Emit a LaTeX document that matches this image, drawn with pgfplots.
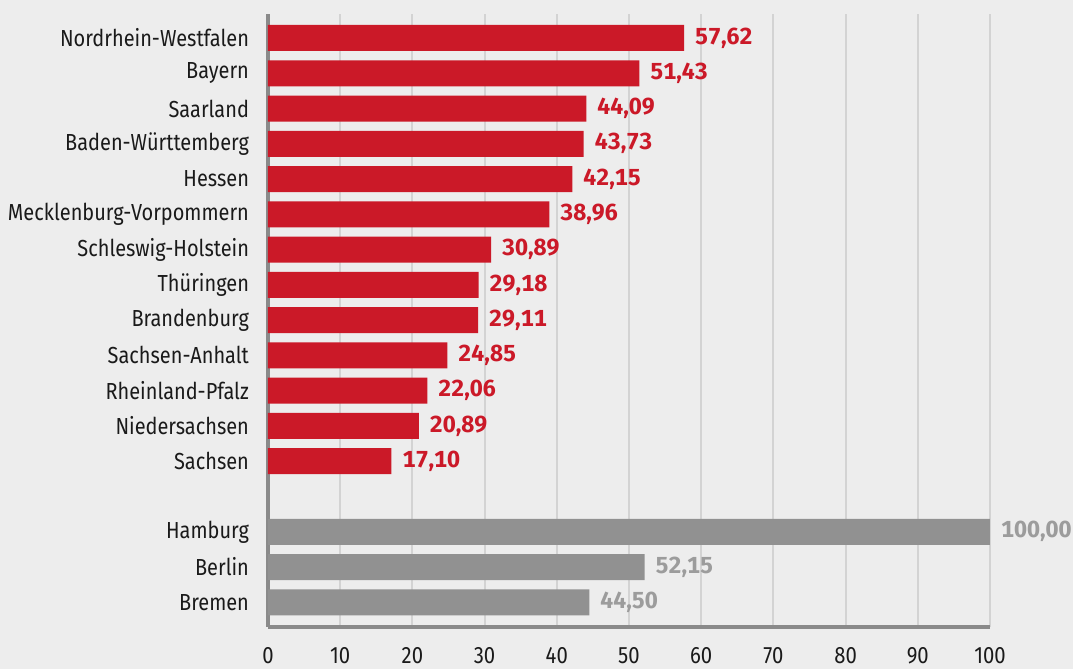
\documentclass[border=0pt]{standalone}
\usepackage{fontspec}
\setmainfont[FakeStretch=0.86]{Fira Sans}
\newfontfamily\numfont[Numbers=Monospaced]{Fira Sans}
\usepackage{pgfplots}
\pgfplotsset{compat=1.18}
\definecolor{bg}{HTML}{EDEDED}
\definecolor{barred}{HTML}{CB1928}
\definecolor{bargrey}{HTML}{919191}
\definecolor{lblgrey}{HTML}{9C9C9C}
\definecolor{gridc}{HTML}{D3D3D3}
\definecolor{axisc}{HTML}{8A8A8A}
\definecolor{txt}{HTML}{1A1A1A}
\begin{document}
\begin{tikzpicture}[font=\fontsize{11.6}{14}\selectfont]
\path[use as bounding box, fill=bg] (-134pt,-21pt) rectangle (402.5pt,313.5pt);
\begin{axis}[
    at={(0,0)}, anchor=south west,
    scale only axis,
    width=361pt, height=306.5pt,
    xbar, bar width=13pt, bar shift=0pt,
    xmin=0, xmax=100,
    ymin=-0.68, ymax=16.7,
    y dir=reverse,
    axis lines*=left,
    axis line style={draw=axisc, line width=2pt},
    xmajorgrids,
    grid style={draw=gridc, line width=1pt},
    major tick length=0pt,
    xtick={0,10,...,100},
    ytick={0,1,2,3,4,5,6,7,8,9,10,11,12,14,15,16},
    yticklabels={Nordrhein-Westfalen, Bayern, Saarland, Baden-Württemberg, Hessen,
        Mecklenburg-Vorpommern, Schleswig-Holstein, Thüringen, Brandenburg,
        Sachsen-Anhalt, Rheinland-Pfalz, Niedersachsen, Sachsen,
        Hamburg, Berlin, Bremen},
    tick label style={text=txt},
    xticklabel style={yshift=-6.8pt, font=\fontsize{11.8}{14}\selectfont},
    yticklabel style={xshift=-6pt},
    /pgf/number format/assume math mode=true,
    nodes near coords,
    nodes near coords style={font=\fontsize{11.6}{14}\selectfont\numfont\bfseries, anchor=west, xshift=2pt,
        /pgf/number format/fixed, /pgf/number format/fixed zerofill,
        /pgf/number format/precision=2, /pgf/number format/use comma},
]
\addplot[fill=barred, draw=none, nodes near coords style={text=barred}] coordinates {
    (57.62,0) (51.43,1) (44.09,2) (43.73,3) (42.15,4) (38.96,5) (30.89,6)
    (29.18,7) (29.11,8) (24.85,9) (22.06,10) (20.89,11) (17.10,12)
};
\addplot[fill=bargrey, draw=none, nodes near coords style={text=lblgrey}] coordinates {
    (100.00,14) (52.15,15) (44.50,16)
};
\end{axis}
\end{tikzpicture}
\end{document}
